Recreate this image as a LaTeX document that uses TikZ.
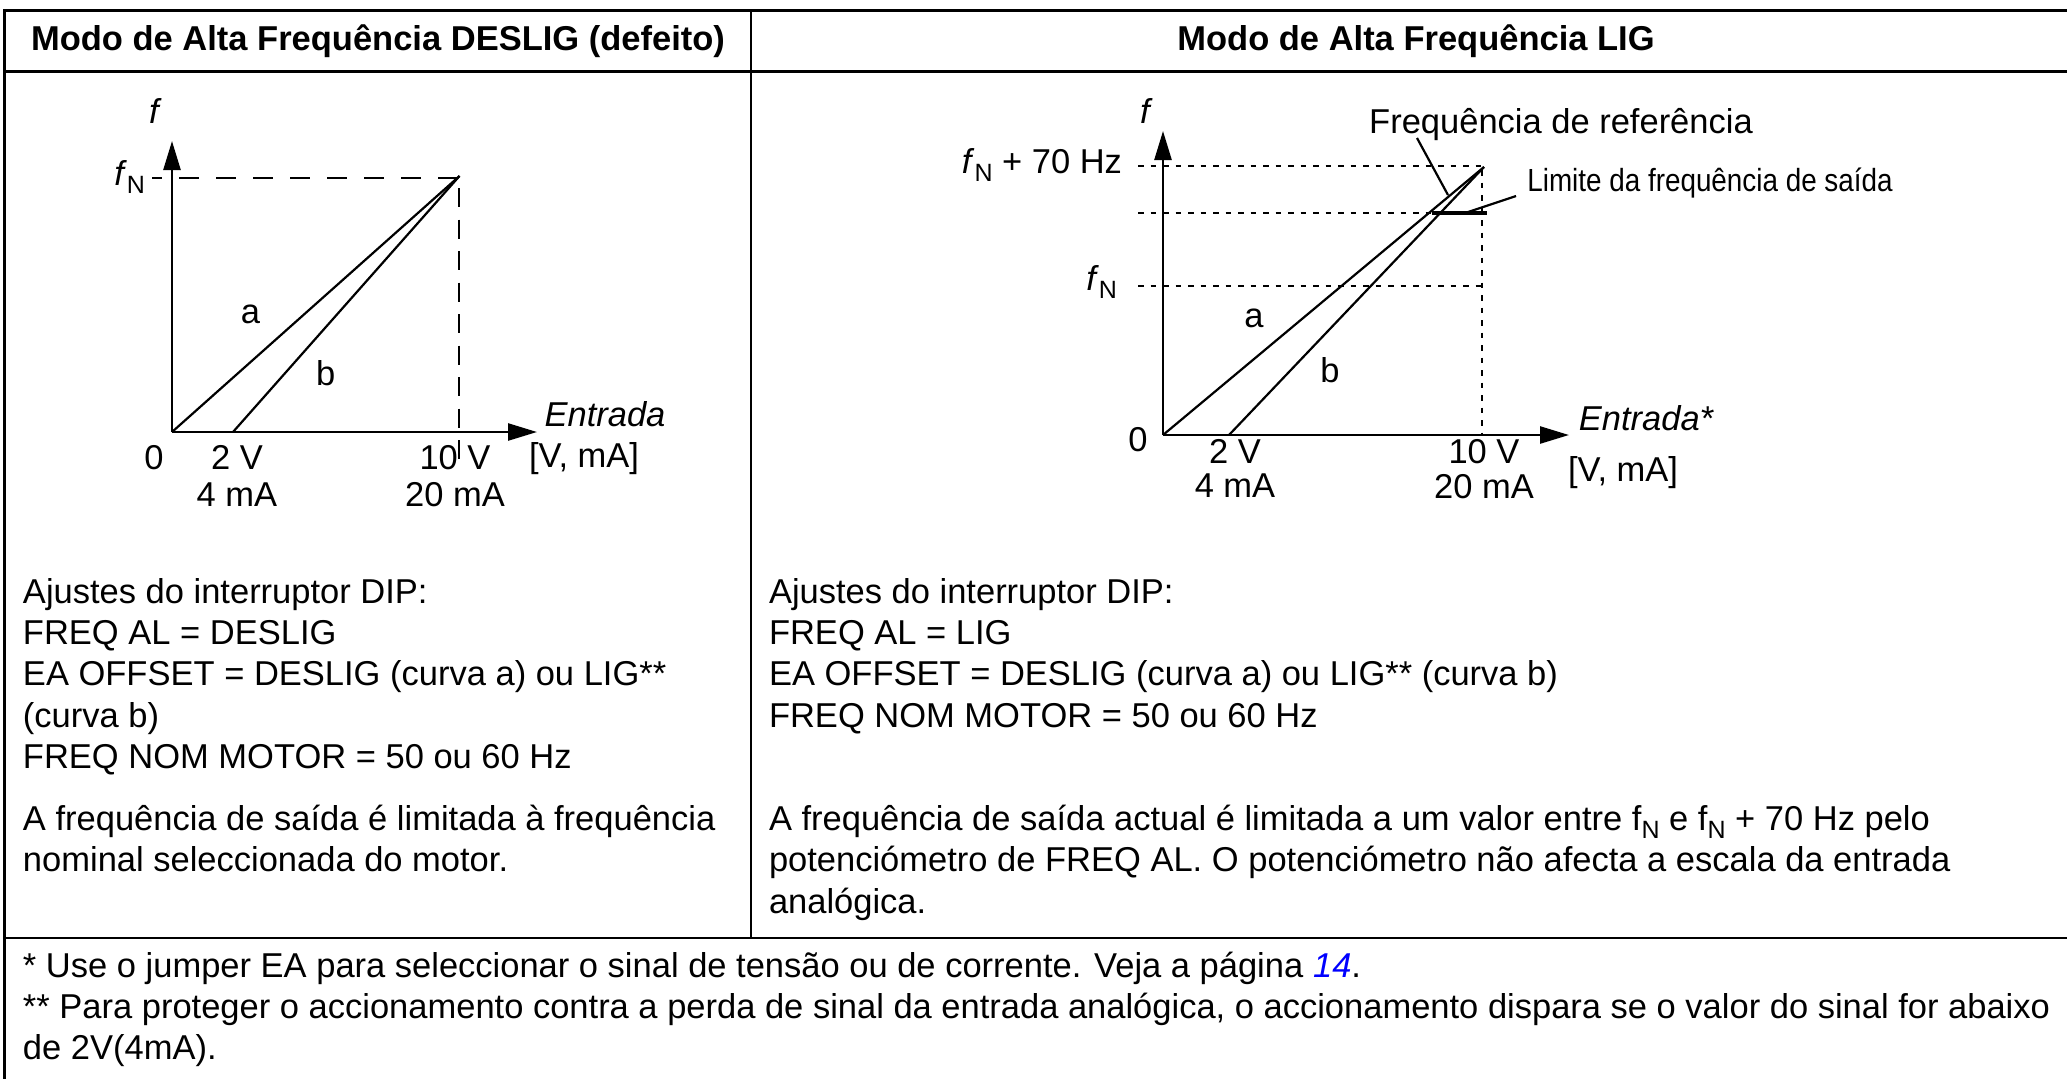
\documentclass[tikz,border=0pt]{standalone}
\usepackage{fontspec}
\setmainfont{Liberation Sans}
\newfontfamily\narrowfont[FakeStretch=0.87]{Liberation Sans}
\usetikzlibrary{arrows.meta}
\newcommand{\subN}{\raisebox{-8pt}{\fontsize{25}{25}\selectfont N}}
\begin{document}
\begin{tikzpicture}[x=1pt,y=-1pt,
  every node/.style={inner sep=0pt, outer sep=0pt, font=\fontsize{34.5}{41.25}\selectfont},
  lbl/.style={text height=24pt, text depth=0pt, anchor=center},
  body/.style={anchor=base west},
  head/.style={lbl, font=\fontsize{34.5}{41.25}\selectfont\bfseries},
  rule/.style={line width=2.5pt},
  axis/.style={line width=2.5pt, -{Triangle[length=29pt,width=17pt]}},
  curve/.style={line width=2.2pt},
  dashH/.style={line width=2pt, dash pattern=on 20pt off 17pt, dash phase=10pt},
  dashV/.style={line width=2pt, dash pattern=on 19pt off 12.5pt},
  dotR/.style={line width=2pt, dash pattern=on 5.5pt off 7pt},
  pointer/.style={line width=2.2pt},
]
\useasboundingbox (0,0) rectangle (2067,1079);
\fill[white] (0,0) rectangle (2067,1079);

% table rules
\draw[rule] (4.5,9.25) -- (4.5,1079);
\draw[rule] (3.25,10.5) -- (2067,10.5);
\draw[rule] (3.25,71.5) -- (2067,71.5);
\draw[rule] (751,10.5) -- (751,938);
\draw[rule] (3.25,938) -- (2067,938);

% headers
\node[head] (hL) at (378,38.6) {Modo de Alta Frequência DESLIG (defeito)};
\node[head] (hR) at (1416,38.6) {Modo de Alta Frequência LIG};

% ---------- left plot ----------
\coordinate (LO) at (172,432);
\coordinate (LYtop) at (172,141);
\coordinate (LXend) at (537,432);
\coordinate (LB) at (233,432);
\coordinate (LT) at (459.5,176);
\coordinate (LHd0) at (152,178);
\coordinate (LHd1) at (459,178);
\coordinate (LVd0) at (459,188);
\coordinate (LVd1) at (459,460);

\draw[dashH] (LHd0) -- (LHd1);
\draw[dashV] (LVd0) -- (LVd1);
\draw[axis] (LO) -- (LYtop);
\draw[axis] (LO) -- (LXend);
\draw[curve] (LO) -- (LT);
\draw[curve] (LB) -- (LT);

\node[lbl] (Lf) at (154,111) {\itshape f};
\node[anchor=base east] (LfN) at (145,185) {\textit{f}\subN};
\node[lbl] (La) at (250.5,311) {a};
\node[lbl] (Lb) at (325.6,373) {b};
\node[lbl] (Lent) at (605,414) {\itshape Entrada};
\node[lbl] (L0) at (154,457) {0};
\node[lbl] (L2V) at (237,457) {2 V};
\node[lbl] (L4mA) at (237,494) {4 mA};
\node[lbl] (L10V) at (455,457) {10 V};
\node[lbl] (L20mA) at (455,494) {20 mA};
\node[lbl] (Lunit) at (584,455) {[V, mA]};

% ---------- right plot ----------
\coordinate (RO) at (1163,435);
\coordinate (RYtop) at (1163,131);
\coordinate (RXend) at (1569,435);
\coordinate (RB) at (1229,435);
\coordinate (RT) at (1484,167);
\coordinate (Rd1a) at (1138,166);
\coordinate (Rd1b) at (1483,166);
\coordinate (Rd2a) at (1138,213.3);
\coordinate (Rd2b) at (1483,213.3);
\coordinate (Rd3a) at (1138,285.5);
\coordinate (Rd3b) at (1483,285.5);
\coordinate (RVa) at (1482,170);
\coordinate (RVb) at (1482,435);
\coordinate (RLim0) at (1432,213.3);
\coordinate (RLim1) at (1487,213.3);
\coordinate (RP1a) at (1417,138);
\coordinate (RP1b) at (1448,195);
\coordinate (RP2a) at (1516,196);
\coordinate (RP2b) at (1468,212);

\draw[dotR] (Rd1a) -- (Rd1b);
\draw[dotR] (Rd2a) -- (Rd2b);
\draw[dotR] (Rd3a) -- (Rd3b);
\draw[dotR] (RVa) -- (RVb);
\draw[axis] (RO) -- (RYtop);
\draw[axis] (RO) -- (RXend);
\draw[curve] (RO) -- (RT);
\draw[curve] (RB) -- (RT);
\draw[line width=4pt] (RLim0) -- (RLim1);
\draw[pointer] (RP1a) -- (RP1b);
\draw[pointer] (RP2a) -- (RP2b);

\node[lbl] (Rf) at (1145,111) {\itshape f};
\node[anchor=base east] (RfN70) at (1122,173) {\textit{f}\subN\ + 70 Hz};
\node[anchor=base east] (RfN) at (1117,290) {\textit{f}\subN};
\node[lbl] (Rref) at (1561,121) {Frequência de referência};
\node[lbl] (Rlim) at (1710,179) {\narrowfont\fontsize{32}{32}\selectfont Limite da frequência de saída};
\node[lbl] (Ra) at (1254,315) {a};
\node[lbl] (Rb) at (1330,370) {b};
\node[lbl] (Rent) at (1646,418) {\itshape Entrada*};
\node[lbl] (R0) at (1138,439) {0};
\node[lbl] (R2V) at (1235,451) {2 V};
\node[lbl] (R4mA) at (1235,485) {4 mA};
\node[lbl] (R10V) at (1484,451) {10 V};
\node[lbl] (R20mA) at (1484,486) {20 mA};
\node[lbl] (Runit) at (1623,469) {[V, mA]};

% ---------- left column text ----------
\node[body] (l1) at (23,603) {Ajustes do interruptor DIP:};
\node[body] (l2) at (23,644) {FREQ AL = DESLIG};
\node[body] (l3) at (23,685.5) {EA OFFSET = DESLIG (curva a) ou LIG**};
\node[body] (l4) at (23,727) {(curva b)};
\node[body] (l5) at (23,768) {FREQ NOM MOTOR = 50 ou 60 Hz};
\node[body] (l6) at (23,830) {A frequência de saída é limitada à frequência};
\node[body] (l7) at (23,871.5) {nominal seleccionada do motor.};

% ---------- right column text ----------
\node[body] (r1) at (769,603) {Ajustes do interruptor DIP:};
\node[body] (r2) at (769,644) {FREQ AL = LIG};
\node[body] (r3) at (769,685.5) {EA OFFSET = DESLIG (curva a) ou LIG** (curva b)};
\node[body] (r4) at (769,727) {FREQ NOM MOTOR = 50 ou 60 Hz};
\node[body] (r5) at (769,830) {A frequência de saída actual é limitada a um valor entre f\subN{} e f\subN{} + 70 Hz pelo};
\node[body] (r6) at (769,871.5) {potenciómetro de FREQ AL. O potenciómetro não afecta a escala da entrada};
\node[body] (r7) at (769,913) {analógica.};

% ---------- footnotes ----------
\node[body] (n1) at (23,977) {* Use o jumper EA para seleccionar o sinal de tensão ou de corrente. Veja a página \textcolor{blue}{\textit{14}}.};
\node[body] (n2) at (23,1018) {** Para proteger o accionamento contra a perda de sinal da entrada analógica, o accionamento dispara se o valor do sinal for abaixo};
\node[body] (n3) at (23,1059) {de 2V(4mA).};
\end{tikzpicture}
\end{document}
